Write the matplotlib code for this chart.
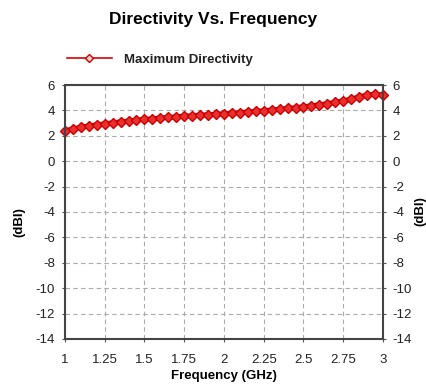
import matplotlib.pyplot as plt

# Directivity data
freq = [1.00, 1.05, 1.10, 1.15, 1.20, 1.25, 1.30, 1.35, 1.40, 1.45,
        1.50, 1.55, 1.60, 1.65, 1.70, 1.75, 1.80, 1.85, 1.90, 1.95,
        2.00, 2.05, 2.10, 2.15, 2.20, 2.25, 2.30, 2.35, 2.40, 2.45,
        2.50, 2.55, 2.60, 2.65, 2.70, 2.75, 2.80, 2.85, 2.90, 2.95, 3.00]
directivity = [2.40, 2.55, 2.68, 2.78, 2.87, 2.95, 3.03, 3.10, 3.17, 3.24,
               3.30, 3.35, 3.40, 3.45, 3.50, 3.55, 3.59, 3.63, 3.67, 3.71,
               3.75, 3.79, 3.83, 3.88, 3.93, 3.98, 4.04, 4.10, 4.16, 4.22,
               4.29, 4.37, 4.45, 4.54, 4.64, 4.76, 4.90, 5.08, 5.22, 5.28, 5.20]
xticks = [1, 1.25, 1.5, 1.75, 2, 2.25, 2.5, 2.75, 3]
xticklabels = ["1", "1.25", "1.5", "1.75", "2", "2.25", "2.5", "2.75", "3"]
yticks = list(range(-14, 7, 2))

plt.rcParams["font.family"] = ["Liberation Sans", "DejaVu Sans"]
plt.rcParams["axes.unicode_minus"] = False

fig = plt.figure(figsize=(4.27, 3.90), dpi=100)
ax = fig.add_axes([0.152, 0.131, 0.745, 0.651])

ax.plot(freq, directivity, color="#dd0000", lw=3.5, marker="D", markersize=5.5,
        markerfacecolor="#e83030", markeredgecolor="#cc0000", markeredgewidth=1.0,
        label="Maximum Directivity", clip_on=False)

ax.set_xlim(1, 3)
ax.set_ylim(-14, 6)
ax.set_xticks(xticks)
ax.set_xticklabels(xticklabels)
ax.set_yticks(yticks)
ax.grid(True, color="#aaaaaa", linestyle=(0, (4, 3)), lw=0.8)
ax.tick_params(labelsize=9.5, length=2, color="#555555", labelcolor="#222222",
               right=True, labelright=True, pad=5)
ax.tick_params(axis="x", pad=9)
for s in ax.spines.values():
    s.set_color("#444444")
    s.set_linewidth(1.5)

ax.set_xlabel("Frequency (GHz)", fontsize=9.5, fontweight="bold", labelpad=3)
ax.set_ylabel("(dBI)", fontsize=9.5, fontweight="bold")
ax.yaxis.set_label_coords(-0.125, 0.46)
fig.text(0.998, 0.46, "(dBI)", rotation=90, fontsize=9.5, fontweight="bold",
         ha="right", va="center")

fig.suptitle("Directivity Vs. Frequency", x=0.50, y=0.968, fontsize=12.5, fontweight="bold")

leg = ax.legend(loc="lower left", bbox_to_anchor=(-0.01, 1.055), frameon=False,
                fontsize=9.5, handlelength=3.4, handletextpad=0.9, borderaxespad=0)
for t in leg.get_texts():
    t.set_fontweight("bold")
    t.set_color("#222222")
h = leg.legend_handles[0]
h.set_linewidth(1.2)
h.set_markersize(4.5)
h.set_markerfacecolor("#f8d0d0")

plt.savefig("out.png", dpi=100)
